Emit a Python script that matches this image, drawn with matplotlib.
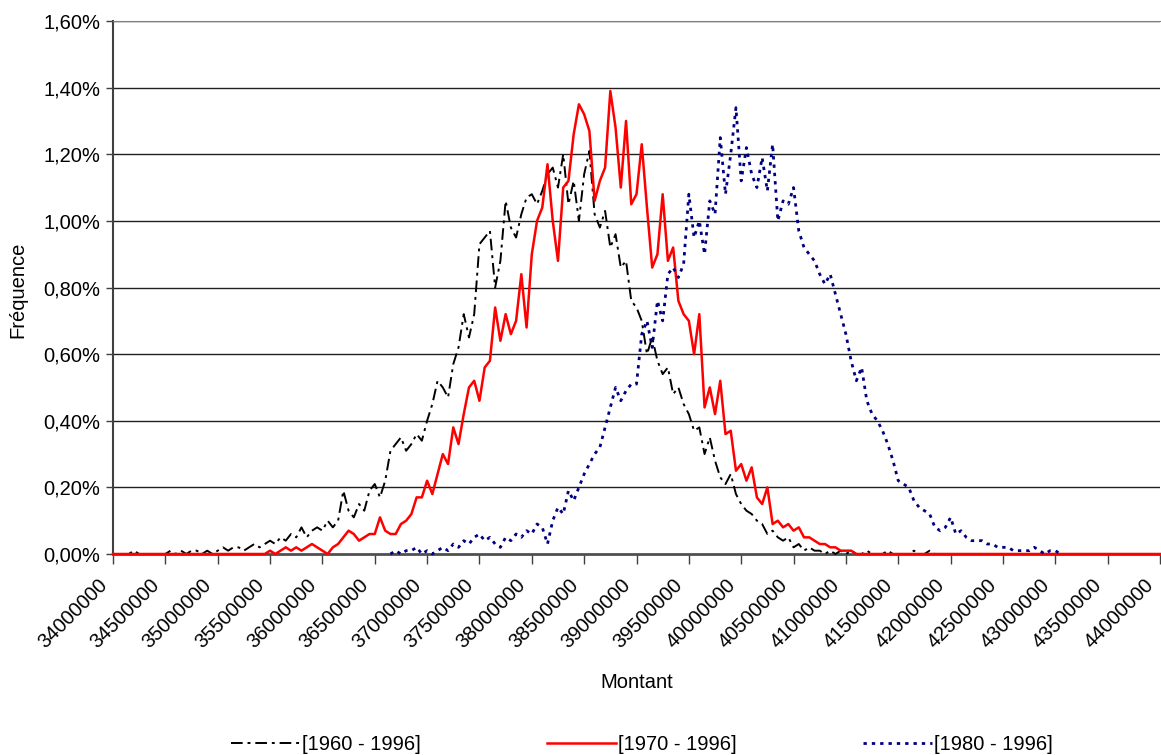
import numpy as np
import matplotlib
matplotlib.use("Agg")
import matplotlib.pyplot as plt
from matplotlib.ticker import FuncFormatter
from matplotlib.transforms import ScaledTranslation

plt.rcParams['font.family'] = ['Liberation Sans', 'DejaVu Sans']

# bins de 50 000 (en %)
pas = 50000
debut_1960 = 34000000
freq_1960 = [
    0, 0, 0, 0, 0.01, 0, 0, 0, 0, 0,
    0, 0.01, 0, 0.01, 0, 0.01, 0.01, 0, 0.01, 0,
    0.01, 0.02, 0.01, 0.02, 0.02, 0.01, 0.02, 0.03, 0.02, 0.03,
    0.04, 0.03, 0.05, 0.04, 0.06, 0.05, 0.08, 0.05, 0.07, 0.08,
    0.07, 0.10, 0.08, 0.10, 0.19, 0.13, 0.11, 0.15, 0.13, 0.19,
    0.21, 0.17, 0.22, 0.31, 0.33, 0.35, 0.31, 0.33, 0.36, 0.34,
    0.40, 0.45, 0.52, 0.50, 0.47, 0.57, 0.62, 0.72, 0.65, 0.72,
    0.93, 0.95, 0.97, 0.80, 0.88, 1.06, 0.98, 0.95, 1.02, 1.07,
    1.08, 1.05, 1.09, 1.14, 1.16, 1.10, 1.20, 1.05, 1.12, 1.00,
    1.14, 1.21, 1.02, 0.98, 1.03, 0.92, 0.96, 0.86, 0.88, 0.76,
    0.74, 0.70, 0.60, 0.65, 0.58, 0.54, 0.56, 0.48, 0.50, 0.45,
    0.42, 0.37, 0.38, 0.30, 0.35, 0.28, 0.23, 0.21, 0.24, 0.18,
    0.15, 0.13, 0.12, 0.10, 0.09, 0.06, 0.07, 0.05, 0.04, 0.05,
    0.02, 0.03, 0.01, 0.02, 0.01, 0.01, 0, 0.01, 0, 0.01,
    0, 0.01, 0, 0, 0.01, 0, 0, 0, 0.01, 0,
    0, 0, 0, 0.01, 0, 0, 0.01, 0, 0, 0,
    0,
]

debut_1970 = 34000000
freq_1970 = [
    0, 0, 0, 0, 0, 0, 0, 0, 0, 0,
    0, 0, 0, 0, 0, 0, 0, 0, 0, 0,
    0, 0, 0, 0, 0, 0, 0, 0, 0, 0,
    0.01, 0, 0.01, 0.02, 0.01, 0.02, 0.01, 0.02, 0.03, 0.02,
    0.01, 0, 0.02, 0.03, 0.05, 0.07, 0.06, 0.04, 0.05, 0.06,
    0.06, 0.11, 0.07, 0.06, 0.06, 0.09, 0.10, 0.12, 0.17, 0.17,
    0.22, 0.18, 0.24, 0.30, 0.27, 0.38, 0.33, 0.42, 0.50, 0.52,
    0.46, 0.56, 0.58, 0.74, 0.64, 0.72, 0.66, 0.70, 0.84, 0.68,
    0.90, 1.00, 1.04, 1.17, 1.00, 0.88, 1.10, 1.12, 1.26, 1.35,
    1.32, 1.27, 1.06, 1.12, 1.16, 1.39, 1.28, 1.10, 1.30, 1.05,
    1.08, 1.23, 1.04, 0.86, 0.90, 1.08, 0.88, 0.92, 0.76, 0.72,
    0.70, 0.60, 0.72, 0.44, 0.50, 0.42, 0.52, 0.36, 0.37, 0.25,
    0.27, 0.22, 0.26, 0.17, 0.15, 0.20, 0.09, 0.10, 0.08, 0.09,
    0.07, 0.08, 0.05, 0.05, 0.04, 0.03, 0.03, 0.02, 0.02, 0.01,
    0.01, 0.01, 0, 0, 0, 0, 0, 0, 0, 0,
    0, 0, 0, 0, 0, 0, 0, 0, 0, 0,
    0, 0, 0, 0, 0, 0, 0, 0, 0, 0,
    0, 0, 0, 0, 0, 0, 0, 0, 0, 0,
    0, 0, 0, 0, 0, 0, 0, 0, 0, 0,
    0, 0, 0, 0, 0, 0, 0, 0, 0, 0,
    0,
]

debut_1980 = 36650000
freq_1980 = [
    0, 0.01, 0, 0.01, 0.01, 0.02, 0,
    0.01, 0, 0.01, 0.02, 0.01, 0.03, 0.02, 0.04, 0.03, 0.05,
    0.06, 0.04, 0.05, 0.03, 0.02, 0.05, 0.04, 0.06, 0.05, 0.07,
    0.06, 0.09, 0.08, 0.03, 0.10, 0.14, 0.12, 0.19, 0.16, 0.20,
    0.24, 0.27, 0.30, 0.32, 0.38, 0.44, 0.50, 0.46, 0.49, 0.51,
    0.51, 0.66, 0.70, 0.62, 0.76, 0.70, 0.84, 0.86, 0.83, 0.87,
    1.08, 0.95, 1.00, 0.90, 1.06, 1.02, 1.25, 1.08, 1.20, 1.34,
    1.12, 1.22, 1.14, 1.10, 1.19, 1.09, 1.23, 1.00, 1.06, 1.05,
    1.10, 0.97, 0.92, 0.90, 0.88, 0.84, 0.81, 0.84, 0.78, 0.72,
    0.66, 0.58, 0.52, 0.56, 0.46, 0.42, 0.40, 0.37, 0.33, 0.28,
    0.22, 0.21, 0.20, 0.16, 0.14, 0.13, 0.12, 0.08, 0.07, 0.08,
    0.11, 0.06, 0.07, 0.05, 0.04, 0.04, 0.04, 0.03, 0.03, 0.02,
    0.02, 0.02, 0.01, 0.01, 0.01, 0.01, 0.02, 0.01, 0, 0.01,
    0.01, 0,
]

libelles = ["[1960 - 1996]", "[1970 - 1996]", "[1980 - 1996]"]
graduations_x = list(range(34000000, 44000001, 500000))
graduations_y = [0, 0.2, 0.4, 0.6, 0.8, 1.0, 1.2, 1.4, 1.6]

x_1960 = debut_1960 + pas * np.arange(len(freq_1960))
x_1970 = debut_1970 + pas * np.arange(len(freq_1970))
x_1980 = debut_1980 + pas * np.arange(len(freq_1980))

fs = 14.5
fig = plt.figure(figsize=(11.61, 7.55), dpi=100)
ax = fig.add_axes([113 / 1161, 1 - 554 / 755, 1047 / 1161, 533 / 755])

for y in graduations_y[1:]:
    ax.axhline(y, color='#202020', lw=1.0, zorder=1)

ax.plot(x_1960, freq_1960, color='black', lw=1.4, ls=(0, (6, 2.5, 1.5, 2.5)),
        label=libelles[0], zorder=3, clip_on=False)
ax.plot(x_1970, freq_1970, color='#ff0000', lw=1.8, ls='-',
        label=libelles[1], zorder=4, clip_on=False)
ax.plot(x_1980, freq_1980, color='#000080', lw=2.0, ls=(0, (1.2, 1.8)),
        label=libelles[2], zorder=5, clip_on=False)

ax.set_xlim(34000000, 44000000)
ax.set_ylim(0, 1.6)
ax.set_yticks(graduations_y)
ax.yaxis.set_major_formatter(FuncFormatter(lambda v, p: f"{v:.2f}%".replace('.', ',')))
ax.tick_params(axis='y', labelsize=fs, direction='out', length=5, width=1, color='#404040', pad=4)
ax.tick_params(axis='x', direction='out', length=7, width=1, color='#404040', pad=0)

ax.set_xticks(graduations_x)
ax.set_xticklabels([str(v) for v in graduations_x], rotation=45, ha='right',
                   va='center', rotation_mode='anchor', fontsize=fs)
# decalage des etiquettes (apres tick_params, sinon il est remis a zero)
decal = ScaledTranslation(-9 / 100, -18 / 100, fig.dpi_scale_trans)
for lab in ax.get_xticklabels():
    lab.set_transform(lab.get_transform() + decal)

ax.spines['right'].set_visible(False)
ax.spines['top'].set_color('#808080')
ax.spines['left'].set_color('#404040')
ax.spines['left'].set_linewidth(1.5)
ax.spines['bottom'].set_color('#505050')
ax.spines['bottom'].set_linewidth(2)

fig.text(636.5 / 1161, 1 - 683 / 755, "Montant", fontsize=fs, ha='center', va='center')
fig.text(18 / 1161, 1 - 290 / 755, "Fréquence", fontsize=fs, ha='center', va='center',
         rotation=90)

fig.legend(loc='center', bbox_to_anchor=(642 / 1161, 1 - 745 / 755), ncol=3,
           frameon=False, fontsize=fs, handlelength=3.4, columnspacing=6.3,
           handletextpad=0.1)

fig.savefig("out.png", dpi=100)
